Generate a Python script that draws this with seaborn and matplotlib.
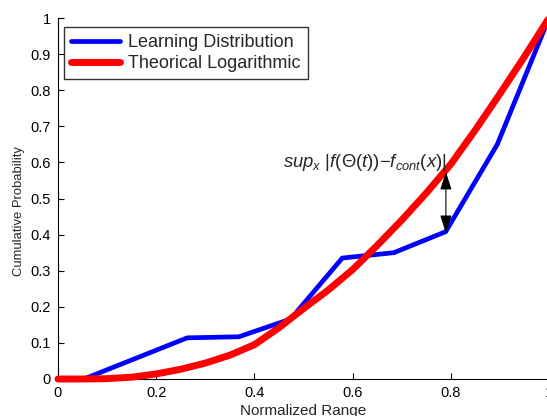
import matplotlib
matplotlib.use("Agg")
import matplotlib.pyplot as plt
import seaborn as sns
import pandas as pd

# Empirical CDF from the learning run (blue)
learn_x = [0, 1/19, 3/19, 5/19, 7/19, 9/19, 11/19, 13/19, 15/19, 17/19, 1.0]
learn_y = [0, 0, 0.057, 0.114, 0.117, 0.166, 0.335, 0.350, 0.408, 0.650, 1.0]

# Theoretical logarithmic CDF (red)
theo_x = [0, 0.05, 0.10, 0.15, 0.20, 0.25, 0.30, 0.35, 0.40, 0.45, 0.50,
          0.55, 0.60, 0.65, 0.70, 0.75, 0.80, 0.85, 0.90, 0.95, 1.0]
theo_y = [0, 0, 0.001, 0.005, 0.014, 0.027, 0.044, 0.066, 0.095, 0.142, 0.195,
          0.246, 0.303, 0.370, 0.440, 0.515, 0.595, 0.690, 0.790, 0.893, 1.0]

x_ticks = [0, 0.2, 0.4, 0.6, 0.8, 1.0]
x_tick_labels = ["0", "0.2", "0.4", "0.6", "0.8", "1"]
y_ticks = [0, 0.1, 0.2, 0.3, 0.4, 0.5, 0.6, 0.7, 0.8, 0.9, 1.0]
y_tick_labels = ["0", "0.1", "0.2", "0.3", "0.4", "0.5", "0.6", "0.7", "0.8", "0.9", "1"]

sup_x = 0.79
sup_lo, sup_hi = 0.404, 0.574

sns.set_style("ticks")
plt.rcParams["font.family"] = ["Liberation Sans", "DejaVu Sans"]
plt.rcParams["mathtext.fontset"] = "custom"
plt.rcParams["mathtext.rm"] = "Liberation Sans"
plt.rcParams["mathtext.it"] = "Liberation Sans:italic"

learn = pd.DataFrame({"x": learn_x, "y": learn_y})
theo = pd.DataFrame({"x": theo_x, "y": theo_y})

fig = plt.figure(figsize=(5.47, 4.16), dpi=100)
ax = fig.add_axes([58 / 547, 1 - 379 / 416, 491 / 547, 361 / 416])

sns.lineplot(data=learn, x="x", y="y", ax=ax, color="#0000ff", lw=3.4,
             label="Learning Distribution", clip_on=False, zorder=3)
sns.lineplot(data=theo, x="x", y="y", ax=ax, color="#ff0000", lw=5,
             label="Theorical Logarithmic", clip_on=False, zorder=4,
             solid_joinstyle="round")

ax.set_xlim(0, 1)
ax.set_ylim(0, 1)
ax.set_xticks(x_ticks)
ax.set_xticklabels(x_tick_labels)
ax.set_yticks(y_ticks)
ax.set_yticklabels(y_tick_labels)
ax.tick_params(direction="in", length=4, width=0.8, labelsize=10.5, pad=5, colors="black")
for side in ("top", "right"):
    ax.spines[side].set_visible(False)
for side in ("left", "bottom"):
    ax.spines[side].set_linewidth(0.8)
    ax.spines[side].set_color("black")

ax.set_xlabel("Normalized Range", fontsize=11, labelpad=3)
ax.set_ylabel("Cumulative Probability", fontsize=9.4)
ax.yaxis.set_label_coords(-0.068, 0.465)

leg = ax.legend(loc="upper left", bbox_to_anchor=(0.012, 0.975), borderaxespad=0,
                fontsize=13, frameon=True, fancybox=False, handlelength=2.7,
                handletextpad=0.45, borderpad=0.4, labelspacing=0.22)
leg.get_frame().set_edgecolor("black")
leg.get_frame().set_linewidth(1.0)

ax.annotate("", xy=(sup_x, sup_hi), xytext=(sup_x, sup_lo),
            arrowprops=dict(arrowstyle="<|-|>,head_length=1.1,head_width=0.35",
                            mutation_scale=10, color="black", lw=0.8,
                            shrinkA=0, shrinkB=0), zorder=6)
ax.text(0.458, 0.587, r"$sup_x\ |f(\Theta(t)){-}f_{cont}(x)|$", fontsize=13.3,
        ha="left", va="baseline", zorder=6)

fig.savefig("out.png", dpi=100)
